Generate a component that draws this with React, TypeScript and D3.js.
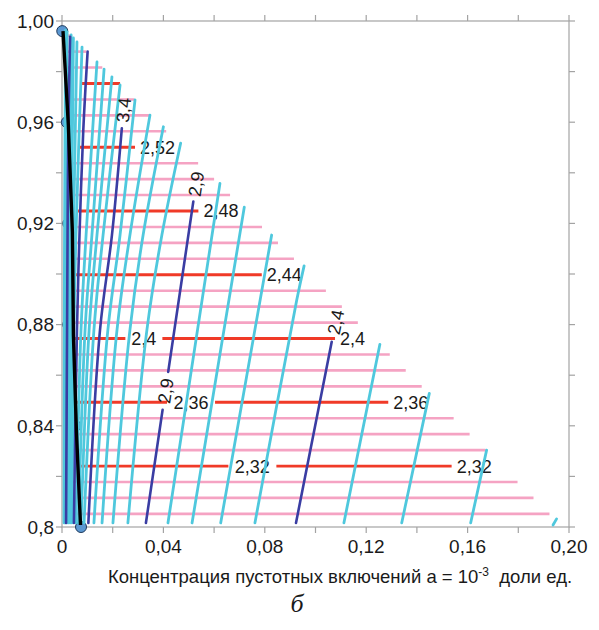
import * as d3 from 'd3';
import React from 'react';

// axis ticks
const xTickValues = [0, 0.04, 0.08, 0.12, 0.16, 0.2];
const xTickLabels = ['0', '0,04', '0,08', '0,12', '0,16', '0,20'];
const xMinorTicks = [0.02, 0.06, 0.1, 0.14, 0.18];
const yTickValues = [0.8, 0.84, 0.88, 0.92, 0.96, 1.0];
const yTickLabels = ['0,8', '0,84', '0,88', '0,92', '0,96', '1,00'];
const yMinorTicks = [0.82, 0.86, 0.9, 0.94, 0.98];

// density isolines (horizontal), value -> y
const densityLevels = [2.29, 2.30, 2.31, 2.32, 2.33, 2.34, 2.35, 2.36, 2.37, 2.38, 2.39, 2.40, 2.41, 2.42, 2.43,
  2.44, 2.45, 2.46, 2.47, 2.48, 2.49, 2.50, 2.51, 2.52, 2.53, 2.54, 2.55, 2.56, 2.57, 2.58, 2.59];
const densityY = [0.8052, 0.8115, 0.8178, 0.8241, 0.8304, 0.8367, 0.8430, 0.8493, 0.8556, 0.8619, 0.8682, 0.8745,
  0.8808, 0.8871, 0.8934, 0.8997, 0.9060, 0.9123, 0.9186, 0.9249, 0.9312, 0.9375, 0.9438, 0.9501, 0.9564, 0.9627,
  0.9690, 0.9753, 0.9816, 0.9879, 0.9942];
// a + porosity limit (right edge of the field)
const fractionLimit = 0.9975;

// labelled density isolines (red)
const redLevels = [2.32, 2.36, 2.40, 2.44, 2.48, 2.52, 2.56];
const redLabels = ['2,32', '2,36', '2,4', '2,44', '2,48', '2,52', ''];
const redStart = [0.0050, 0.0030, 0.0012, 0.0050, 0.0055, 0.0063, 0.0071];
const redEnd = [0.1537, 0.1287, 0.1077, 0.0788, 0.0538, 0.0288, 0.0229];
const redInlineX = [0.0751, 0.0509, 0.0323, null, null, null, null];

// velocity isolines (cyan, every 5th dark blue)
const velocityLevels = [2.0, 2.1, 2.2, 2.3, 2.4, 2.5, 2.6, 2.7, 2.8, 2.9, 3.0, 3.1, 3.2, 3.3, 3.4, 3.5, 3.6, 3.7,
  3.8, 3.9, 4.0, 4.1, 4.2, 4.3, 4.4, 4.5, 4.6];
const velocityLines = [
  [[0.1937, 0.8008], [0.1951, 0.8032]],
  [[0.1612, 0.8016], [0.1675, 0.8304]],
  [[0.1340, 0.8016], [0.1449, 0.8528]],
  [[0.1112, 0.8016], [0.1254, 0.8722]],
  [[0.0923, 0.8016], [0.1064, 0.8732]],
  [[0.0761, 0.8016], [0.0926, 0.8897], [0.0955, 0.9032]],
  [[0.0626, 0.8016], [0.0827, 0.9154]],
  [[0.0513, 0.8016], [0.0719, 0.9264]],
  [[0.0418, 0.8016], [0.0623, 0.9358]],
  [[0.0331, 0.8016], [0.0518, 0.9286]],
  [[0.0260, 0.8016], [0.0335, 0.8779], [0.0394, 0.9154], [0.0468, 0.9517]],
  [[0.0201, 0.8016], [0.0268, 0.8779], [0.0320, 0.9154], [0.0400, 0.9582]],
  [[0.0158, 0.8016], [0.0217, 0.8779], [0.0268, 0.9154], [0.0347, 0.9628]],
  [[0.0126, 0.8016], [0.0181, 0.8779], [0.0229, 0.9154], [0.0288, 0.9688]],
  [[0.0104, 0.8016], [0.0150, 0.8779], [0.0197, 0.9154], [0.0236, 0.9576]],
  [[0.0087, 0.8016], [0.0126, 0.8779], [0.0162, 0.9154], [0.0229, 0.9747]],
  [[0.0075, 0.8016], [0.0107, 0.8779], [0.0138, 0.9154], [0.0197, 0.9779]],
  [[0.0065, 0.8016], [0.0091, 0.8779], [0.0118, 0.9154], [0.0166, 0.9810]],
  [[0.0055, 0.8016], [0.0075, 0.8779], [0.0095, 0.9154], [0.0138, 0.9838]],
  [[0.0047, 0.8016], [0.0059, 0.8779], [0.0069, 0.9154], [0.0084, 0.9569], [0.0101, 0.9879]],
  [[0.0039, 0.8016], [0.0047, 0.8779], [0.0055, 0.9154], [0.0079, 0.9897]],
  [[0.0032, 0.8016], [0.0039, 0.8779], [0.0045, 0.9154], [0.0059, 0.9917]],
  [[0.0026, 0.8016], [0.0032, 0.8779], [0.0037, 0.9154], [0.0045, 0.9933]],
  [[0.0020, 0.8016], [0.0024, 0.8779], [0.0030, 0.9154], [0.0036, 0.9945]],
  [[0.0016, 0.8016], [0.0020, 0.8779], [0.0022, 0.9154], [0.0025, 0.9569], [0.0032, 0.9938]],
  [[0.0012, 0.8016], [0.0014, 0.8779], [0.0016, 0.9154], [0.0020, 0.9957]],
  [[0.0008, 0.8016], [0.0009, 0.8779], [0.0010, 0.9154], [0.0014, 0.9964]],
];

// labels on the dark isolines
const darkLabelLevels = [2.4, 2.9, 2.9, 3.4];
const darkLabelY = [0.8810, 0.9356, 0.8538, 0.9648];
const darkLabelInline = [false, false, true, false];

// boundary curve with its points
const boundaryLine = [[0.0004, 0.9960], [0.0025, 0.9589], [0.0041, 0.9166], [0.0045, 0.8759], [0.0057, 0.8375], [0.0073, 0.8008]];
const pointX = [0.0075, 0.0054, 0.0025, 0.0025, 0.0019, 0.0001];
const pointY = [0.80, 0.84, 0.88, 0.92, 0.96, 0.996];

const params = {
  width: 599, height: 630,
  left: 62, right: 569, top: 21, bottom: 527,
  tick: 6,
};

const colors = {
  frame: '#a3a3a3',
  pink: '#f5a3c3',
  red: '#f03a28',
  cyan: '#4fc8dd',
  dark: '#3a3da3',
  text: '#1a1a1a',
};

const sans = '"Liberation Sans", Arial, sans-serif';

const fmt = (v: number) => String(v).replace('.', ',');

// x on a polyline at given y (linear, extrapolated at ends)
const xAt = (pts: number[][], yv: number) => {
  let i = 0;
  while (i < pts.length - 2 && pts[i + 1][1] < yv) i++;
  const [x0, y0] = pts[i];
  const [x1, y1] = pts[i + 1];
  return x0 + (x1 - x0) * (yv - y0) / (y1 - y0);
};

const segAt = (pts: number[][], yv: number) => {
  let i = 0;
  while (i < pts.length - 2 && pts[i + 1][1] < yv) i++;
  return [pts[i], pts[i + 1]];
};

// part of a polyline between two y values
const clipY = (pts: number[][], ya: number, yb: number) => {
  const out: number[][] = [];
  const lo = Math.max(ya, pts[0][1]);
  const hi = Math.min(yb, pts[pts.length - 1][1]);
  if (hi <= lo) return out;
  out.push([xAt(pts, lo), lo]);
  pts.forEach(p => { if (p[1] > lo && p[1] < hi) out.push(p); });
  out.push([xAt(pts, hi), hi]);
  return out;
};

export default function App() {
  const x = d3.scaleLinear().domain([0, 0.2]).range([params.left, params.right]);
  const y = d3.scaleLinear().domain([0.8, 1.0]).range([params.bottom, params.top]);
  const pxPerY = (params.bottom - params.top) / 0.2;

  const curve = d3.line<number[]>().x(d => x(d[0])).y(d => y(d[1])).curve(d3.curveCatmullRom.alpha(0.5));
  const straight = d3.line<number[]>().x(d => x(d[0])).y(d => y(d[1]));

  const isDark = (v: number) => Math.round(v * 10) % 5 === 4;

  // pink density lines
  const pink = densityLevels.map((d, i) => {
    if (redLevels.some(r => Math.abs(r - d) < 1e-6)) return null;
    const yy = y(densityY[i]);
    return <line key={'p' + d} x1={x(0.0015)} x2={x(fractionLimit - densityY[i])} y1={yy} y2={yy}
      stroke={colors.pink} strokeWidth={2.6} />;
  });

  // red labelled density lines
  const red = redLevels.map((d, i) => {
    const yv = densityY[densityLevels.findIndex(v => Math.abs(v - d) < 1e-6)];
    const yy = y(yv);
    const label = redLabels[i];
    const gapHalf = label.length * 5.5 + 2;
    const parts: number[][] = [];
    if (redInlineX[i] != null) {
      const cx = x(redInlineX[i] as number);
      parts.push([x(redStart[i]), cx - gapHalf], [cx + gapHalf, x(redEnd[i])]);
    } else {
      parts.push([x(redStart[i]), x(redEnd[i])]);
    }
    return (
      <g key={'r' + d}>
        {parts.map((p, j) => <line key={j} x1={p[0]} x2={p[1]} y1={yy} y2={yy} stroke={colors.red} strokeWidth={2.8} />)}
        {redInlineX[i] != null &&
          <text x={x(redInlineX[i] as number)} y={yy} dy="0.36em" textAnchor="middle" fontSize={18}
            fontFamily={sans} fill={colors.text}>{label}</text>}
        {label &&
          <text x={x(redEnd[i]) + 5} y={yy} dy="0.36em" fontSize={18} fontFamily={sans} fill={colors.text}>{label}</text>}
      </g>
    );
  });

  // velocity lines
  const cyan = velocityLevels.map((v, i) => isDark(v) ? null :
    <path key={'c' + v} d={curve(velocityLines[i]) || ''} fill="none" stroke={colors.cyan} strokeWidth={2.8} strokeLinecap="round" />);

  const dark = velocityLevels.map((v, i) => {
    if (!isDark(v)) return null;
    const pts = velocityLines[i];
    let pieces = [pts];
    darkLabelLevels.forEach((lv, j) => {
      if (Math.abs(lv - v) > 1e-6 || !darkLabelInline[j]) return;
      const gap = 19 / pxPerY;
      pieces = [clipY(pts, pts[0][1], darkLabelY[j] - gap), clipY(pts, darkLabelY[j] + gap, pts[pts.length - 1][1])];
    });
    return (
      <g key={'d' + v}>
        {pieces.map((p, j) => <path key={j} d={(p.length > 2 ? curve(p) : straight(p)) || ''} fill="none"
          stroke={colors.dark} strokeWidth={2.6} strokeLinecap="round" />)}
      </g>
    );
  });

  const darkLabels = darkLabelLevels.map((lv, j) => {
    const pts = velocityLines[velocityLevels.findIndex(v => Math.abs(v - lv) < 1e-6)];
    const yv = darkLabelY[j];
    const px = x(xAt(pts, yv));
    const py = y(yv);
    const [a, b] = segAt(pts, yv);
    const ang = Math.atan2(y(b[1]) - y(a[1]), x(b[0]) - x(a[0])) * 180 / Math.PI;
    return (
      <text key={'dl' + j} transform={`translate(${px},${py}) rotate(${ang})`} dy="0.36em" textAnchor="middle"
        fontSize={18} fontFamily={sans} fill={colors.text}>{fmt(lv)}</text>
    );
  });

  const points = pointX.map((px, i) => (
    <circle key={'pt' + i} cx={x(px)} cy={y(pointY[i])} r={5.5} fill="#5b98d2" stroke="#1f3a5c" strokeWidth={1} />
  ));

  const t = params.tick;

  return (
    <div style={{ position: 'absolute', left: 0, top: 0 }}>
      <svg width={params.width} height={params.height} style={{ display: 'block', background: '#fff' }}>
        {/* frame and ticks */}
        <g stroke={colors.frame} strokeWidth={1.2} fill="none">
          <rect x={params.left} y={params.top} width={params.right - params.left} height={params.bottom - params.top} />
          {xTickValues.concat(xMinorTicks).map(v => (
            <g key={'xt' + v}>
              <line x1={x(v)} x2={x(v)} y1={params.bottom} y2={params.bottom + t} />
              <line x1={x(v)} x2={x(v)} y1={params.top} y2={params.top - t} />
            </g>
          ))}
          {yTickValues.concat(yMinorTicks).map(v => (
            <g key={'yt' + v}>
              <line x1={params.left - t} x2={params.left} y1={y(v)} y2={y(v)} />
              <line x1={params.right} x2={params.right + t} y1={y(v)} y2={y(v)} />
            </g>
          ))}
        </g>

        {pink}
        {red}
        {points}
        {cyan}
        {dark}
        {darkLabels}
        <path d={straight(boundaryLine) || ''} fill="none" stroke="#000" strokeWidth={3.4} strokeLinejoin="round" />

        {/* tick labels */}
        <g fontFamily={sans} fontSize={19} fill={colors.text}>
          {xTickValues.map((v, i) => (
            <text key={'xl' + v} x={x(v)} y={params.bottom + 26} textAnchor="middle">{xTickLabels[i]}</text>
          ))}
          {yTickValues.map((v, i) => (
            <text key={'yl' + v} x={params.left - 8} y={y(v)} dy="0.36em" textAnchor="end">{yTickLabels[i]}</text>
          ))}
        </g>

        <text x={340} y={583} textAnchor="middle" fontFamily={sans} fontSize={18.5} fill={colors.text}
          style={{ whiteSpace: 'pre' }}>
          Концентрация пустотных включений а = 10<tspan dy={-7} fontSize={12}>-3</tspan>
          <tspan dy={7}>  доли ед.</tspan>
        </text>
        <text x={297} y={612} textAnchor="middle" fontFamily='"Liberation Serif", "DejaVu Serif", serif'
          fontStyle="italic" fontSize={26} fill={colors.text}>б</text>
      </svg>
    </div>
  );
}
